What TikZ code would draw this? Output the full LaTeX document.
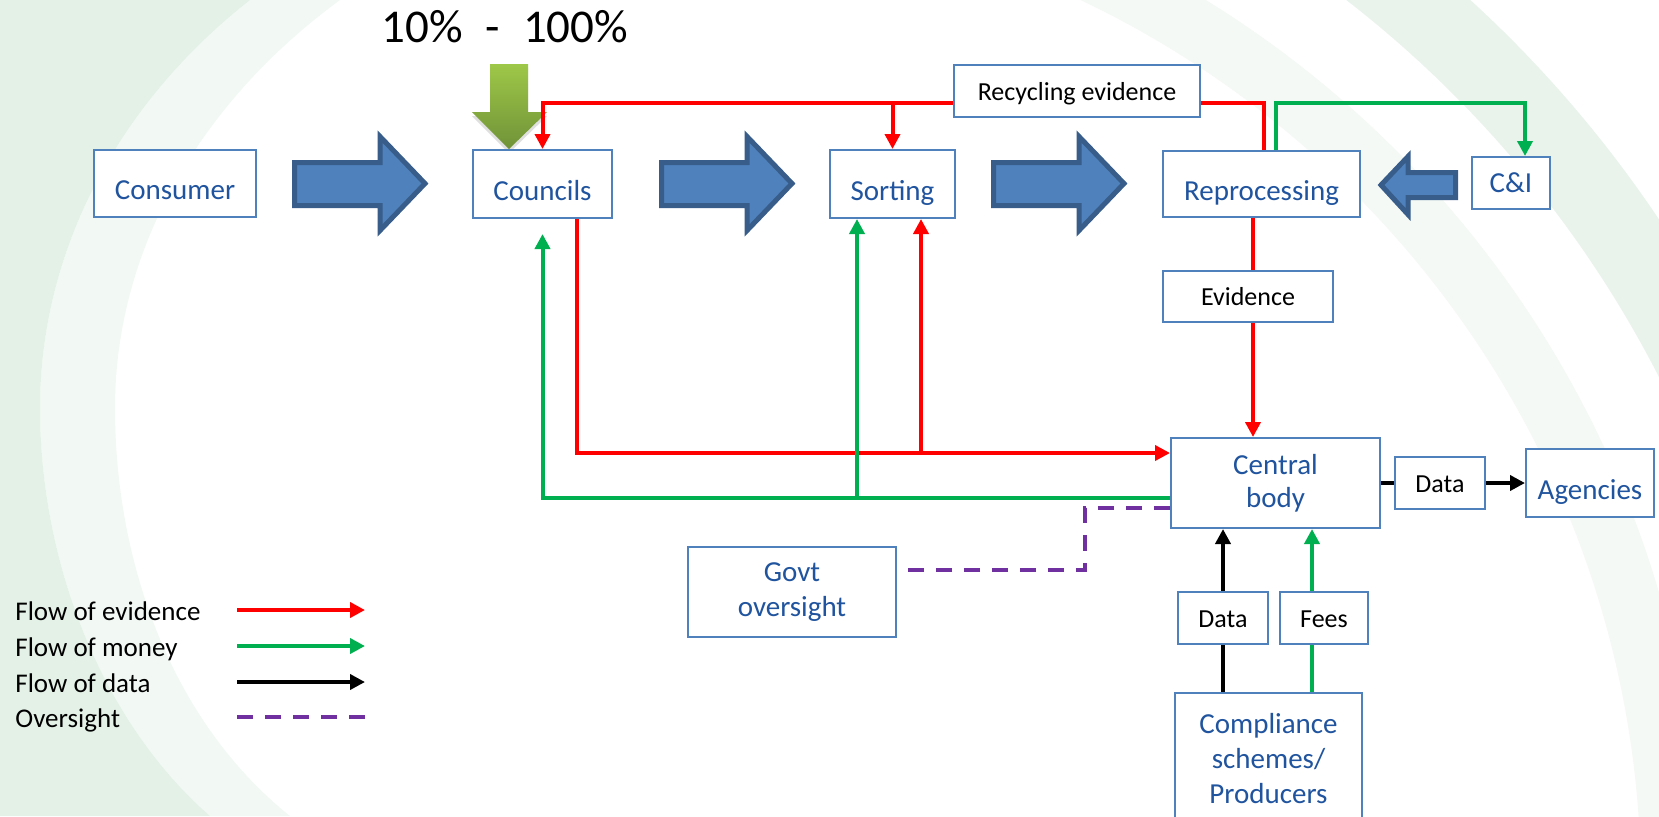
\documentclass[tikz,border=0pt]{standalone}
\usepackage{fontspec}
\setmainfont{Carlito}
\usetikzlibrary{arrows.meta,calc,shadows}
\tikzset{line cap=round,line join=round}
\definecolor{boxline}{RGB}{79,129,189}
\definecolor{boxtext}{RGB}{32,84,158}
\definecolor{bigfill}{RGB}{79,129,189}
\definecolor{bigedge}{RGB}{56,93,138}
\definecolor{evred}{RGB}{255,0,0}
\definecolor{mogreen}{RGB}{0,176,80}
\definecolor{ovpurple}{RGB}{112,48,160}
\definecolor{swirl}{RGB}{228,241,231}
\definecolor{limetop}{RGB}{158,200,72}
\definecolor{limebot}{RGB}{112,146,56}
\pgfdeclarelayer{back}
\pgfdeclarelayer{wires}
\pgfsetlayers{back,wires,main}
\tikzset{
  blk/.style={draw=boxline,line width=1pt,fill=white,inner sep=0pt,align=center,
    text=boxtext,font=\fontsize{14.5}{17}\selectfont},
  oneline/.style={text height=16pt,text depth=0pt},
  lbl/.style={blk,text=black,font=\fontsize{13}{15}\selectfont,text height=9pt,text depth=0pt},
  headtip/.style={-{Triangle[length=7.5pt,width=7.5pt]}},
  evid/.style={draw=evred,line width=2pt,headtip},
  money/.style={draw=mogreen,line width=2pt,headtip},
  datal/.style={draw=black,line width=2pt,headtip},
  oversee/.style={draw=ovpurple,line width=2pt,dash pattern=on 8pt off 6pt,line cap=butt},
  fat/.style={fill=bigfill,draw=bigedge,line width=2.5pt,line join=miter},
  legtext/.style={font=\fontsize{13.5}{16}\selectfont,inner sep=0pt}
}

\begin{document}
\begin{tikzpicture}[x=0.5pt,y=-0.5pt]
    \useasboundingbox (0,0) rectangle (1659,816);
    % boxes
    \node[blk,oneline,minimum width=81pt,minimum height=33.5pt] (consumer) at (175,183.5) {Consumer};
    \node[blk,oneline,minimum width=69.5pt,minimum height=34pt] (councils) at (542.5,184) {Councils};
    \node[blk,oneline,minimum width=62.5pt,minimum height=34pt] (sorting) at (892.5,184) {Sorting};
    \node[blk,oneline,minimum width=98.5pt,minimum height=33pt] (reproc) at (1261.5,184) {Reprocessing};
    \node[blk,minimum width=39pt,minimum height=26pt] (ci) at (1511,183) {C\&I};
    \node[lbl,minimum width=123pt,minimum height=26pt] (recev) at (1077,91) {Recycling evidence};
    \node[lbl,minimum width=85pt,minimum height=25.5pt] (evbox) at (1248,296.5) {Evidence};
    \node[blk,font=\fontsize{14.5}{16.5}\selectfont,minimum width=104.5pt,minimum height=45pt] (central) at (1275.5,483) {Central\\body};
    \node[lbl,minimum width=45pt,minimum height=26pt] (dright) at (1440,483) {Data};
    \node[blk,oneline,minimum width=64pt,minimum height=34pt] (agencies) at (1590,483) {Agencies};
    \node[blk,font=\fontsize{14.5}{17.5}\selectfont,minimum width=104pt,minimum height=45pt] (govt) at (792,592) {Govt\\oversight};
    \node[lbl,minimum width=45pt,minimum height=26pt] (dlow) at (1223,618) {Data};
    \node[lbl,minimum width=44pt,minimum height=26pt] (fees) at (1324,618) {Fees};
    \node[blk,font=\fontsize{14.5}{17.5}\selectfont,minimum width=93.5pt,minimum height=65.5pt] (comp) at (1268.5,758.5) {Compliance\\schemes/\\Producers};
    \node[font=\fontsize{23.5}{27}\selectfont,inner sep=0pt,anchor=base west] (pct) at (381,42) {10\%\hspace{11.5pt}-\hspace{11.5pt}100\%};
    % big flow arrows
    \foreach \xa in {292,659,991}{%
    \draw[fat] (\xa+2.5,162.5) -- (\xa+88,162.5) -- (\xa+88,136.5) -- (\xa+133,183.5)
        -- (\xa+88,230.5) -- (\xa+88,205.5) -- (\xa+2.5,205.5) -- cycle;
    }
    \draw[fat] (1455.5,172.5) -- (1408,172.5) -- (1408,156.5) -- (1381,185)
        -- (1408,214.5) -- (1408,197.5) -- (1455.5,197.5) -- cycle;
    \begin{pgfonlayer}{back}
        \fill[white] (0,0) rectangle (1659,816);
        % left swirl
        \fill[swirl] (0,0) -- (250,0) .. controls (110,110) and (40,260) .. (40,408)
            .. controls (40,560) and (100,720) .. (210,816) -- (0,816) -- cycle;
        \fill[swirl,opacity=.45] (250,0) .. controls (110,110) and (40,260) .. (40,408)
            .. controls (40,560) and (100,720) .. (210,816) -- (290,816)
            .. controls (170,720) and (115,560) .. (115,408)
            .. controls (115,260) and (190,110) .. (340,0) -- cycle;
        % right swirl
        \begin{scope}
            \clip (900,0) rectangle (1659,816);
            \draw[swirl,opacity=.4,line width=30pt] (661,886) circle [radius=505pt];
            \draw[swirl,opacity=.8,line width=40pt] (661,886) circle [radius=580pt];
        \end{scope}
        % share arrow
        \shade[top color=limetop,bottom color=limebot,
            drop shadow={opacity=.25,shadow xshift=0pt,shadow yshift=-2pt}]
            (490,64) -- (528,64) -- (528,112) -- (547,112) -- (509,149) -- (472,112) -- (490,112) -- cycle;
    \end{pgfonlayer}
    \begin{pgfonlayer}{wires}
        % evidence
        \coordinate (ev-top) at ([yshift=-6pt]recev.west);
        \draw[evid] (ev-top) -| (councils.north);
        \draw[evid] (ev-top -| sorting.north) -- (sorting.north);
        \coordinate (rp-ev) at ([xshift=1pt]reproc.north);
        \draw[evid,-] (rp-ev) |- ([yshift=-6pt]recev.east);
        \coordinate (rp-out) at ([xshift=-4.25pt]reproc.south);
        \draw[evid] (rp-out) -- (rp-out |- central.north);
        \coordinate (co-out) at ([xshift=17pt]councils.south);
        \coordinate (ce-ev) at ([yshift=15pt]central.west);
        \draw[evid] (co-out) |- (ce-ev);
        \coordinate (so-ev) at ([xshift=14.25pt]sorting.south);
        \draw[evid] (so-ev |- ce-ev) -- (so-ev);
        % money
        \coordinate (rp-mo) at ([xshift=7pt]reproc.north);
        \coordinate (ci-mo) at ([xshift=7pt]ci.north);
        \draw[money] (rp-mo) -- (rp-mo |- ev-top) -| (ci-mo);
        \coordinate (ce-mo) at ([yshift=-7.5pt]central.west);
        \draw[money,shorten >=7.5pt] (ce-mo) -| (councils.south);
        \coordinate (so-mo) at ([xshift=-17.75pt]sorting.south);
        \draw[money] (ce-mo -| so-mo) -- (so-mo);
        \coordinate (fe-mo) at ([xshift=-6pt]fees.center);
        \draw[money] (comp.north -| fe-mo) -- (central.south -| fe-mo);
        % data
        \draw[datal] (comp.north -| dlow) -- (central.south -| dlow);
        \draw[datal,-] (central.east) -- (dright.west);
        \draw[datal] (dright.east) -- (agencies.west);
        % oversight
        \coordinate (ov-bend) at (1085,570);
        \draw[oversee] ([yshift=-12.5pt]central.west) -| (ov-bend) -- (ov-bend -| govt.east);
    \end{pgfonlayer}
    % legend
    \foreach \txt/\sty/\yb [count=\i] in {Flow of evidence/evid/620,Flow of money/money/656,%
        Flow of data/datal/692,Oversight/oversee/727}{%
    \node[legtext,anchor=base west] (leg\i) at (15,\yb) {\txt};
    \coordinate (leg\i-a) at (237,\yb-10);
    \coordinate (leg\i-b) at (365,\yb-10);
    \draw[\sty] (leg\i-a) -- (leg\i-b);
    }
\end{tikzpicture}
\end{document}
